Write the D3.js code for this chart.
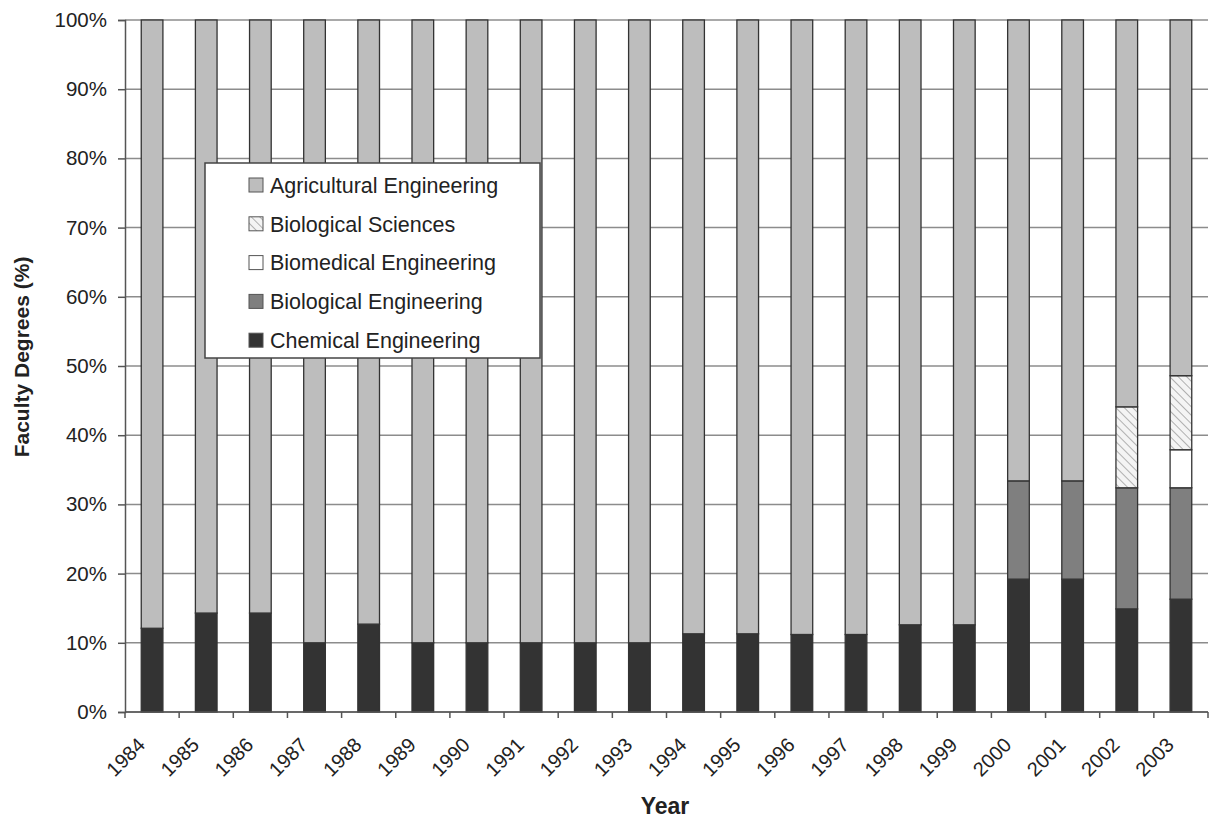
<!DOCTYPE html>
<html>
<head>
<meta charset="utf-8">
<script src="https://cdn.jsdelivr.net/npm/d3@7"></script>
<style>
  html, body { margin: 0; padding: 0; background: #fff; }
  svg { display: block; font-family: "Liberation Sans", Arial, sans-serif; }
</style>
</head>
<body>
<svg id="chart" width="1211" height="822"></svg>
<script>
// Faculty degree background by year (percent of faculty)
const years = ["1984","1985","1986","1987","1988","1989","1990","1991","1992","1993",
               "1994","1995","1996","1997","1998","1999","2000","2001","2002","2003"];

const chemicalEngineering   = [12.1, 14.3, 14.3, 10.0, 12.7, 10.0, 10.0, 10.0, 10.0, 10.0,
                               11.3, 11.3, 11.2, 11.2, 12.6, 12.6, 19.2, 19.2, 14.9, 16.3];
const biologicalEngineering = [0, 0, 0, 0, 0, 0, 0, 0, 0, 0,
                               0, 0, 0, 0, 0, 0, 14.2, 14.2, 17.5, 16.1];
const biomedicalEngineering = [0, 0, 0, 0, 0, 0, 0, 0, 0, 0,
                               0, 0, 0, 0, 0, 0, 0, 0, 0, 5.5];
const biologicalSciences    = [0, 0, 0, 0, 0, 0, 0, 0, 0, 0,
                               0, 0, 0, 0, 0, 0, 0, 0, 11.7, 10.7];
const agriculturalEngineering = [87.9, 85.7, 85.7, 90.0, 87.3, 90.0, 90.0, 90.0, 90.0, 90.0,
                                 88.7, 88.7, 88.8, 88.8, 87.4, 87.4, 66.6, 66.6, 55.9, 51.4];

const yTicks = [0, 10, 20, 30, 40, 50, 60, 70, 80, 90, 100];

// stacking order, bottom to top
const seriesKeys = ["Chemical Engineering", "Biological Engineering", "Biomedical Engineering",
                    "Biological Sciences", "Agricultural Engineering"];
const seriesValues = {
  "Chemical Engineering": chemicalEngineering,
  "Biological Engineering": biologicalEngineering,
  "Biomedical Engineering": biomedicalEngineering,
  "Biological Sciences": biologicalSciences,
  "Agricultural Engineering": agriculturalEngineering
};
// legend order, top to bottom
const legendKeys = ["Agricultural Engineering", "Biological Sciences", "Biomedical Engineering",
                    "Biological Engineering", "Chemical Engineering"];

const fills = {
  "Chemical Engineering": "#333333",
  "Biological Engineering": "#7f7f7f",
  "Biomedical Engineering": "#ffffff",
  "Biological Sciences": "url(#hatch)",
  "Agricultural Engineering": "#bdbdbd"
};

const rows = years.map((y, i) => {
  const r = { year: y };
  seriesKeys.forEach(k => r[k] = seriesValues[k][i]);
  return r;
});

const svg = d3.select("#chart");
const margin = { top: 20, right: 3, bottom: 110, left: 125 };
const W = 1211, H = 822;
const iw = W - margin.left - margin.right;
const ih = H - margin.top - margin.bottom;

// diagonal hatch for Biological Sciences
const defs = svg.append("defs");
const pat = defs.append("pattern")
  .attr("id", "hatch")
  .attr("patternUnits", "userSpaceOnUse")
  .attr("width", 6).attr("height", 6)
  .attr("patternTransform", "rotate(-45)");
pat.append("rect").attr("width", 6).attr("height", 6).attr("fill", "#f4f4f4");
pat.append("line").attr("x1", 0).attr("y1", 0).attr("x2", 0).attr("y2", 6)
  .attr("stroke", "#b0b0b0").attr("stroke-width", 2);

const g = svg.append("g").attr("transform", `translate(${margin.left},${margin.top})`);

const x = d3.scaleBand().domain(years).range([0, iw]).paddingInner(0.6).paddingOuter(0.3);
const y = d3.scaleLinear().domain([0, 100]).range([ih, 0]);

// horizontal gridlines
g.append("g").selectAll("line").data(yTicks).join("line")
  .attr("x1", 0).attr("x2", iw)
  .attr("y1", d => y(d)).attr("y2", d => y(d))
  .attr("stroke", "#8c8c8c").attr("stroke-width", 1.5);

// stacked bars
const stacked = d3.stack().keys(seriesKeys)(rows);
g.append("g").selectAll("g").data(stacked).join("g")
  .attr("fill", d => fills[d.key])
  .selectAll("rect").data(d => d.filter(s => s[1] - s[0] > 0)).join("rect")
  .attr("x", d => x(d.data.year))
  .attr("width", x.bandwidth())
  .attr("y", d => y(d[1]))
  .attr("height", d => y(d[0]) - y(d[1]))
  .attr("stroke", "#333")
  .attr("stroke-width", 1.3);

// y axis
const yAxis = g.append("g")
  .call(d3.axisLeft(y).tickValues(yTicks).tickFormat(d => d + "%").tickSize(7).tickPadding(11));
yAxis.select(".domain").attr("stroke", "#555").attr("stroke-width", 1.5);
yAxis.selectAll(".tick line").attr("stroke", "#555").attr("stroke-width", 1.5);
yAxis.selectAll("text").attr("fill", "#222").style("font-size", "20.5px");

// x axis: line with boundary ticks between categories
const xAxis = g.append("g").attr("transform", `translate(0,${ih})`);
xAxis.append("line").attr("x1", 0).attr("x2", iw).attr("y1", 0).attr("y2", 0)
  .attr("stroke", "#555").attr("stroke-width", 1.5);
const boundaries = d3.range(years.length + 1).map(i => i * x.step());
xAxis.selectAll("line.tk").data(boundaries).join("line").attr("class", "tk")
  .attr("x1", d => d).attr("x2", d => d).attr("y1", 0).attr("y2", 6)
  .attr("stroke", "#555").attr("stroke-width", 1.5);
xAxis.selectAll("text").data(years).join("text")
  .attr("transform", d => `translate(${x(d) + x.bandwidth() / 2 - 16},${24}) rotate(-45)`)
  .attr("text-anchor", "end")
  .attr("dy", "0.72em")
  .attr("fill", "#222")
  .style("font-size", "20px")
  .text(d => d);

// axis titles
svg.append("text")
  .attr("x", 665).attr("y", 814)
  .attr("text-anchor", "middle")
  .attr("fill", "#222")
  .style("font-size", "23px").style("font-weight", "bold")
  .text("Year");

svg.append("text")
  .attr("transform", "translate(29,357) rotate(-90)")
  .attr("text-anchor", "middle")
  .attr("fill", "#222")
  .style("font-size", "21px").style("font-weight", "bold")
  .text("Faculty Degrees (%)");

// legend
const legend = svg.append("g").attr("transform", "translate(205,163)");
legend.append("rect").attr("width", 335).attr("height", 195)
  .attr("fill", "#fff").attr("stroke", "#444").attr("stroke-width", 1.5);
const items = legend.selectAll("g.item").data(legendKeys).join("g").attr("class", "item")
  .attr("transform", (d, i) => `translate(44,${22 + i * 38.8})`);
items.append("rect").attr("x", 0).attr("y", -7).attr("width", 14).attr("height", 14)
  .attr("fill", d => fills[d]).attr("stroke", "#555").attr("stroke-width", 1);
items.append("text").attr("x", 21).attr("y", 0).attr("dy", "0.36em")
  .attr("fill", "#222").style("font-size", "21.5px")
  .text(d => d);
</script>
</body>
</html>
